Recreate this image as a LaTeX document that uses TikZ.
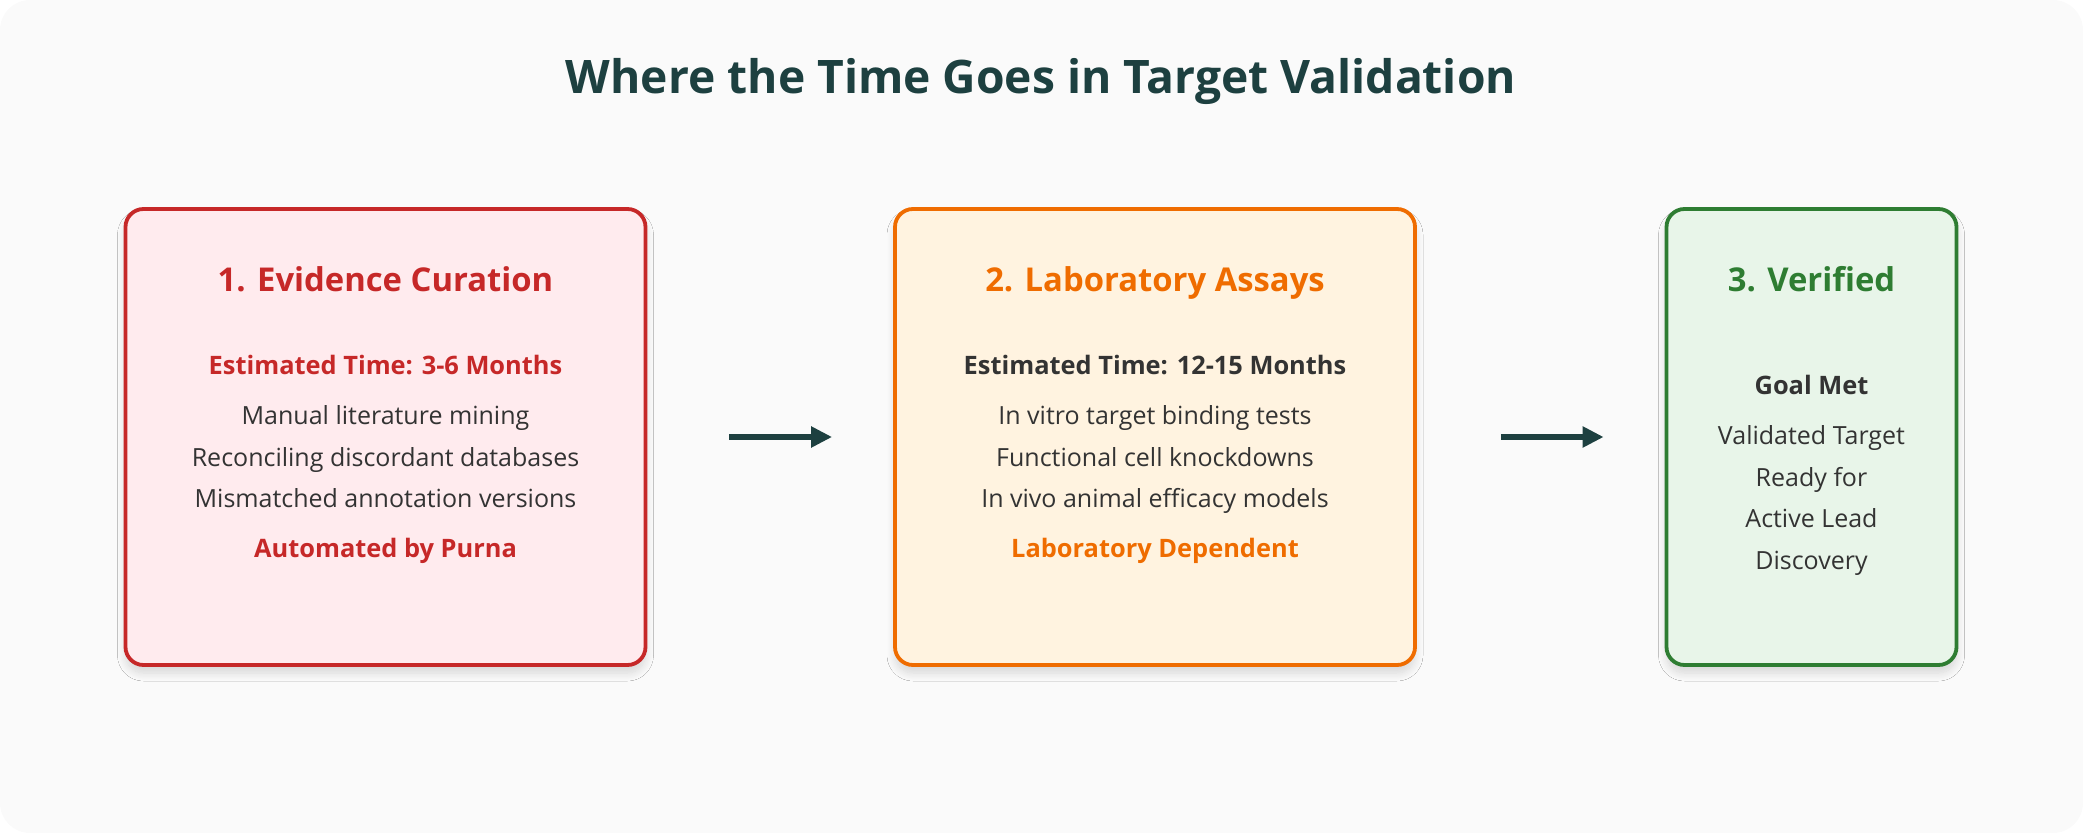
\documentclass[tikz,border=0pt]{standalone}
\usepackage{fontspec}
\setmainfont{Open Sans}
\usetikzlibrary{arrows.meta,shadows.blur}

\definecolor{ink}{HTML}{1D4040}
\definecolor{txt}{HTML}{333333}
\definecolor{paper}{HTML}{FAFAFA}
\definecolor{redline}{HTML}{C62828}
\definecolor{redfill}{HTML}{FFEBEE}
\definecolor{orgline}{HTML}{EF6C00}
\definecolor{orgfill}{HTML}{FFF3E0}
\definecolor{grnline}{HTML}{2E7D32}
\definecolor{grnfill}{HTML}{E8F5E9}

\begin{document}
\begin{tikzpicture}[
    x=0.5pt, y=-0.5pt,
    stage/.style={rectangle,rounded corners=9pt,line width=1.9pt,minimum height=228pt,
        blur shadow={shadow xshift=0pt,shadow yshift=-4pt,shadow blur radius=4pt,shadow blur steps=12,shadow opacity=14}},
    head/.style={anchor=base,font=\fontsize{16.4}{20}\selectfont\bfseries},
    sub/.style={anchor=base,font=\fontsize{12.7}{15}\selectfont\bfseries},
    item/.style={anchor=base,text=txt,font=\fontsize{12.5}{15}\selectfont},
    flow/.style={-{Triangle[length=10.5pt,width=10pt]},line width=3pt,draw=ink},
]
\useasboundingbox (0,0) rectangle (2083,833);
\fill[paper, rounded corners=15pt] (0,0) rectangle (2083,833);

\node[anchor=base,text=ink,font=\fontsize{23.1}{28}\selectfont\bfseries] (title) at (1041,94)
    {Where the Time Goes in Target Validation};

% the three stages
\node[stage,draw=redline,fill=redfill,minimum width=260pt] (evid) at (385.5,437) {};
\node[stage,draw=orgline,fill=orgfill,minimum width=260pt] (lab) at (1155,437) {};
\node[stage,draw=grnline,fill=grnfill,minimum width=145pt] (goal) at (1811.5,437) {};

% 1. evidence curation
\node[head,text=redline] (evid-head) at (385.5,292) {1. Evidence Curation};
\node[sub,text=redline] (evid-time) at (385.5,375) {Estimated Time: 3-6 Months};
\foreach \t [count=\i] in {Manual literature mining,Reconciling discordant databases,Mismatched annotation versions}
    \node[item] (evid-l\i) at (385.5,{383.5+41.5*\i}) {\t};
\node[sub,text=redline] (evid-note) at (385.5,558) {Automated by Purna};

% 2. laboratory assays
\node[head,text=orgline] (lab-head) at (1155,292) {2. Laboratory Assays};
\node[sub,text=txt] (lab-time) at (1155,375) {Estimated Time: 12-15 Months};
\foreach \t [count=\i] in {In vitro target binding tests,Functional cell knockdowns,In vivo animal efficacy models}
    \node[item] (lab-l\i) at (1155,{383.5+41.5*\i}) {\t};
\node[sub,text=orgline] (lab-note) at (1155,558) {Laboratory Dependent};

% 3. verified
\node[head,text=grnline] (goal-head) at (1811.5,292) {3. Verified};
\node[sub,text=txt] (goal-met) at (1811.5,395) {Goal Met};
\foreach \t [count=\i] in {Validated Target,Ready for,Active Lead,Discovery}
    \node[item] (goal-l\i) at (1811.5,{403.5+41.5*\i}) {\t};

\draw[flow,shorten <=41pt,shorten >=30.5pt] (evid) -- (lab);
\draw[flow,shorten <=42pt,shorten >=30.5pt] (lab) -- (goal);
\end{tikzpicture}
\end{document}
